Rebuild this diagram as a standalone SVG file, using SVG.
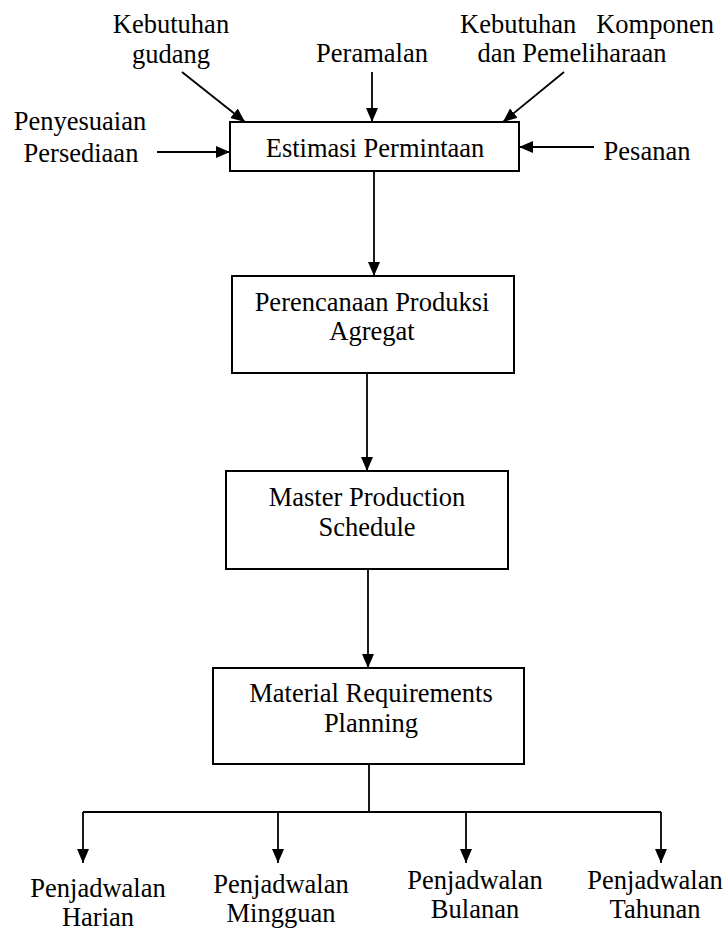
<svg xmlns="http://www.w3.org/2000/svg" width="725" height="932" viewBox="0 0 725 932">
<style>
text{font-family:"Liberation Serif","Times New Roman",serif;font-size:26.5px;fill:#000;text-anchor:middle}
.box{fill:#fff;stroke:#000;stroke-width:2}
.ln{fill:none;stroke:#000;stroke-width:1.8}
</style>
<defs>
<marker id="ah" markerUnits="userSpaceOnUse" markerWidth="14" markerHeight="14" viewBox="0 0 14 14" refX="14" refY="7" orient="auto">
<path d="M0,1 L14,7 L0,13 Z" fill="#000"/>
</marker>
</defs>
<g id="connectors">
<path class="ln" d="M182,72 L245,122" marker-end="url(#ah)"/>
<path class="ln" d="M372,72 L372,122" marker-end="url(#ah)"/>
<path class="ln" d="M564,72 L503,122" marker-end="url(#ah)"/>
<path class="ln" d="M157,152 L230,152" marker-end="url(#ah)"/>
<path class="ln" d="M594,147 L519,147" marker-end="url(#ah)"/>
<path class="ln" d="M374,171 L374,276" marker-end="url(#ah)"/>
<path class="ln" d="M367,373 L367,471" marker-end="url(#ah)"/>
<path class="ln" d="M368,569 L368,668" marker-end="url(#ah)"/>
<path class="ln" d="M369,764 L369,812 M83,812 L661,812"/>
<path class="ln" d="M83,812 L83,863" marker-end="url(#ah)"/>
<path class="ln" d="M278,812 L278,863" marker-end="url(#ah)"/>
<path class="ln" d="M466,812 L466,863" marker-end="url(#ah)"/>
<path class="ln" d="M661,812 L661,863" marker-end="url(#ah)"/>
</g>
<g id="estimasi">
<rect class="box" x="230" y="122" width="289" height="49"/>
<text x="375" y="157">Estimasi Permintaan</text>
</g>
<g id="perencanaan">
<rect class="box" x="232" y="276" width="282" height="97"/>
<text x="372" y="311">Perencanaan Produksi</text>
<text x="372" y="340">Agregat</text>
</g>
<g id="mps">
<rect class="box" x="226" y="471" width="282" height="98"/>
<text x="367" y="506">Master Production</text>
<text x="367" y="536">Schedule</text>
</g>
<g id="mrp">
<rect class="box" x="213" y="668" width="311" height="96"/>
<text x="371" y="702">Material Requirements</text>
<text x="371" y="732">Planning</text>
</g>
<g id="kebutuhan-gudang">
<text x="171" y="33">Kebutuhan</text>
<text x="171" y="63">gudang</text>
</g>
<g id="peramalan">
<text x="372" y="62">Peramalan</text>
</g>
<g id="kebutuhan-komponen">
<text x="460" y="33" style="text-anchor:start">Kebutuhan</text>
<text x="714" y="33" style="text-anchor:end">Komponen</text>
<text x="572" y="62">dan Pemeliharaan</text>
</g>
<g id="penyesuaian">
<text x="80" y="130">Penyesuaian</text>
<text x="81" y="162">Persediaan</text>
</g>
<g id="pesanan">
<text x="647" y="160">Pesanan</text>
</g>
<g id="harian">
<text x="98" y="897">Penjadwalan</text>
<text x="98" y="926">Harian</text>
</g>
<g id="mingguan">
<text x="281" y="893">Penjadwalan</text>
<text x="281" y="922">Mingguan</text>
</g>
<g id="bulanan">
<text x="475" y="889">Penjadwalan</text>
<text x="475" y="918">Bulanan</text>
</g>
<g id="tahunan">
<text x="655" y="889">Penjadwalan</text>
<text x="655" y="918">Tahunan</text>
</g>
</svg>
